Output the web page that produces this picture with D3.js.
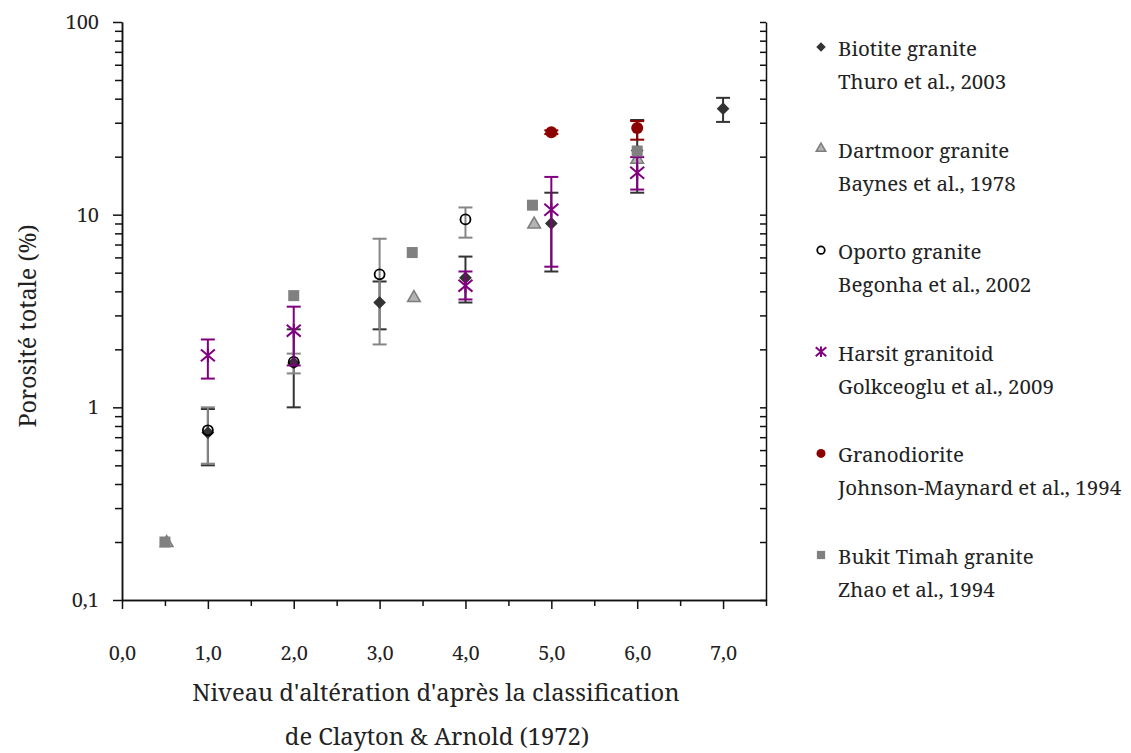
<!DOCTYPE html>
<html><head><meta charset="utf-8">
<script src="https://cdn.jsdelivr.net/npm/d3@7"></script>
</head>
<body style="margin:0;background:#fff">
<svg id="c" width="1131" height="753"></svg>
<script>
// ---- data ----
const biotiteX  = [1, 2, 3, 4, 5, 6, 7];
const biotiteY  = [0.74, 1.7, 3.5, 4.7, 9.0, 21.5, 35.5];
const biotiteLo = [0.5, 1.0, 2.54, 3.5, 5.07, 13.0, 30.3];
const biotiteHi = [0.98, 2.54, 4.5, 6.06, 13.0, 31.0, 40.4];

const dartmoorX = [0.52, 3.4, 4.8, 6.0];
const dartmoorY = [0.198, 3.7, 8.9, 19.3];

const oportoX  = [1, 2, 3, 4];
const oportoY  = [0.76, 1.72, 4.9, 9.45];
const oportoLo = [0.51, 1.5, 2.12, 7.6];
const oportoHi = [1.0, 1.9, 7.5, 10.9];

const harsitX  = [1, 2, 4, 5, 6];
const harsitY  = [1.86, 2.5, 4.28, 10.6, 16.5];
const harsitLo = [1.41, 1.65, 3.63, 5.37, 13.5];
const harsitHi = [2.25, 3.33, 5.07, 15.7, 19.9];

const granoX  = [5, 6];
const granoY  = [26.8, 28.2];
const granoLo = [26.2, 24.5];
const granoHi = [27.4, 30.6];

const bukitX = [0.5, 2, 3.38, 4.78, 6];
const bukitY = [0.2, 3.8, 6.36, 11.2, 21.4];

const xMajorTicks = [0, 1, 2, 3, 4, 5, 6, 7];
const xMinorTicks = [0.5, 1.5, 2.5, 3.5, 4.5, 5.5, 6.5, 7.5];
const yMajorTicks = [0.1, 1, 10, 100];
const yTickLabels = ["0,1", "1", "10", "100"];

const legendNames = ["Biotite granite", "Dartmoor granite", "Oporto granite", "Harsit granitoid", "Granodiorite", "Bukit Timah granite"];
const legendRefs  = ["Thuro et al., 2003", "Baynes et al., 1978", "Begonha et al., 2002", "Golkceoglu et al., 2009", "Johnson-Maynard et al., 1994", "Zhao et al., 1994"];

const xTitle1 = "Niveau d'altération d'après la classification";
const xTitle2 = "de Clayton & Arnold (1972)";
const yTitle = "Porosité totale (%)";

// ---- chart ----
const FONT = "Noto Serif";
const svg = d3.select("#c");
const x = d3.scaleLinear().domain([0, 7.5]).range([122, 766]);
const y = d3.scaleLog().domain([0.1, 100]).range([600, 22]);

const yMinor = [];
[0.1, 1, 10].forEach(d => { for (let k = 2; k <= 9; k++) yMinor.push(+(d * k).toPrecision(3)); });

const fmt = d3.formatLocale({decimal: ",", thousands: ".", grouping: [3], currency: ["", "€"]}).format(".1f");
const axisCol = "#111";
function setFont(sel, size){ return sel.attr("font-family", FONT).style("font-family", FONT).attr("font-size", size).attr("fill", "#222"); }
function styleAxis(g){
  g.attr("font-family", FONT);
  g.selectAll("path,line").attr("stroke", axisCol).attr("stroke-width", 1.5);
  setFont(g.selectAll("text"), 20);
}

// bottom axis
svg.append("g").attr("transform", "translate(0,600)")
  .call(d3.axisBottom(x).tickValues(xMinorTicks).tickSize(6).tickSizeOuter(0).tickFormat(""))
  .call(styleAxis);
svg.append("g").attr("transform", "translate(0,600)")
  .call(d3.axisBottom(x).tickValues(xMajorTicks).tickSize(9).tickSizeOuter(0).tickPadding(37).tickFormat(fmt))
  .call(styleAxis);
// left axis
svg.append("g").attr("transform", "translate(122,0)")
  .call(d3.axisLeft(y).tickValues(yMinor).tickSize(7).tickSizeOuter(0).tickFormat(""))
  .call(styleAxis);
svg.append("g").attr("transform", "translate(122,0)")
  .call(d3.axisLeft(y).tickValues(yMajorTicks).tickSize(9).tickSizeOuter(0).tickPadding(14).tickFormat((d, i) => yTickLabels[i]))
  .call(styleAxis);
// right axis (ticks inside)
svg.append("g").attr("transform", "translate(766,0)")
  .call(d3.axisLeft(y).tickValues(yMinor.concat(yMajorTicks)).tickSize(6).tickSizeOuter(0).tickFormat(""))
  .call(styleAxis);

// titles
setFont(svg.append("text").attr("x", 436).attr("y", 701).attr("text-anchor", "middle"), 23.8).text(xTitle1);
setFont(svg.append("text").attr("x", 437).attr("y", 745).attr("text-anchor", "middle"), 23.8).text(xTitle2);
setFont(svg.append("text").attr("transform", "translate(36,326) rotate(-90)").attr("text-anchor", "middle"), 23.4).text(yTitle);

// ---- marks ----
const capW = 7;
function errorBars(xs, lo, hi, color){
  const g = svg.append("g").attr("stroke", color).attr("stroke-width", 2).attr("fill", "none");
  xs.forEach((xv, i) => {
    if (lo[i] == null) return;
    const cx = x(xv), y0 = y(lo[i]), y1 = y(hi[i]);
    g.append("line").attr("x1", cx).attr("x2", cx).attr("y1", y0).attr("y2", y1);
    g.append("line").attr("x1", cx - capW).attr("x2", cx + capW).attr("y1", y0).attr("y2", y0);
    g.append("line").attr("x1", cx - capW).attr("x2", cx + capW).attr("y1", y1).attr("y2", y1);
  });
}
function asteriskPath(r){
  const p = d3.path();
  p.moveTo(-r, -r*0.85); p.lineTo(r, r*0.85);
  p.moveTo(-r, r*0.85); p.lineTo(r, -r*0.85);
  p.moveTo(0, -r); p.lineTo(0, r);
  return p.toString();
}
const markers = {
  diamond: (g, s) => g.append("path").attr("d", d3.symbol(d3.symbolSquare, 81*s*s)()).attr("transform", "rotate(45)").attr("fill", "#333"),
  triangle: (g, s) => g.append("path").attr("d", d3.symbol(d3.symbolTriangle, 70*s*s)()).attr("fill", "#b4b4b4").attr("stroke", "#7d7d7d").attr("stroke-width", 1.5),
  openCircle: (g, s) => g.append("circle").attr("r", 5*s).attr("fill", "none").attr("stroke", "#000").attr("stroke-width", 1.8),
  asterisk: (g, s) => g.append("path").attr("d", asteriskPath(7*s)).attr("stroke", "#800080").attr("stroke-width", 2).attr("fill", "none"),
  redCircle: (g, s) => g.append("circle").attr("r", 6*s).attr("fill", "#8b0000"),
  square: (g, s) => g.append("path").attr("d", d3.symbol(d3.symbolSquare, 121*s*s)()).attr("fill", "#808080")
};
function points(xs, ys, kind){
  const g = svg.append("g");
  xs.forEach((xv, i) => {
    const t = g.append("g").attr("transform", `translate(${x(xv)},${y(ys[i])})`);
    markers[kind](t, 1);
  });
}

errorBars(biotiteX, biotiteLo, biotiteHi, "#333");
errorBars(oportoX, oportoLo, oportoHi, "#858585");
points(biotiteX, biotiteY, "diamond");
points(dartmoorX, dartmoorY, "triangle");
points(oportoX, oportoY, "openCircle");
errorBars(harsitX, harsitLo, harsitHi, "#800080");
points(harsitX, harsitY, "asterisk");
errorBars(granoX, granoLo, granoHi, "#8b0000");
points(granoX, granoY, "redCircle");
points(bukitX, bukitY, "square");

// ---- legend ----
const legendKinds = ["diamond", "triangle", "openCircle", "asterisk", "redCircle", "square"];
legendNames.forEach((name, i) => {
  const cy = 49 + i * 101.6;
  const m = svg.append("g").attr("transform", `translate(821,${cy - 2})`);
  markers[legendKinds[i]](m, 0.75);
  setFont(svg.append("text").attr("x", 838).attr("y", cy + 7), 20.5).text(name);
  setFont(svg.append("text").attr("x", 838).attr("y", cy + 40), 20.5).text(legendRefs[i]);
});
</script></body></html>
